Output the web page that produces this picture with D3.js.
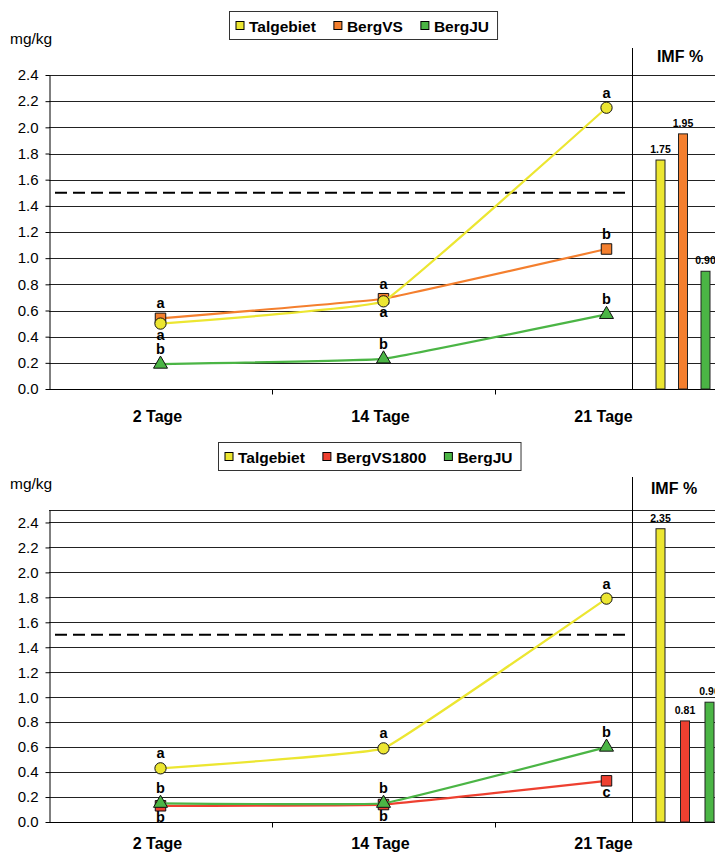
<!DOCTYPE html>
<html>
<head>
<meta charset="utf-8">
<title>Talgebiet / Berg</title>
<script src="https://d3js.org/d3.v7.min.js"></script>
<style>
body {margin:0; background:#fff;}
text {font-family: "Liberation Sans", Arial, sans-serif; fill:#000;}
</style>
</head>
<body>
<svg id="chart" width="715" height="852"></svg>
<script>
// categories and axis ticks
var days = ["2 Tage", "14 Tage", "21 Tage"];
var yTicks = [0, 0.2, 0.4, 0.6, 0.8, 1.0, 1.2, 1.4, 1.6, 1.8, 2.0, 2.2, 2.4];
var limit = 1.5;

// upper chart
var groups1 = ["Talgebiet", "BergVS", "BergJU"];
var talgebiet1 = [0.50, 0.67, 2.15];
var bergVS1 = [0.54, 0.69, 1.07];
var bergJU1 = [0.19, 0.23, 0.57];
var letters1 = [["a", "a", "a"], ["a", "a", "b"], ["b", "b", "b"]];
var imf1 = [1.75, 1.95, 0.90];

// lower chart
var groups2 = ["Talgebiet", "BergVS1800", "BergJU"];
var talgebiet2 = [0.43, 0.59, 1.79];
var bergVS1800 = [0.13, 0.14, 0.33];
var bergJU2 = [0.15, 0.15, 0.60];
var letters2 = [["a", "a", "a"], ["b", "b", "c"], ["b", "b", "b"]];
var imf2 = [2.35, 0.81, 0.96];

var color = d3.scaleOrdinal()
    .domain(["Talgebiet", "BergVS", "BergJU", "BergVS1800"])
    .range(["#ECE631", "#F47F2E", "#4BB545", "#EE4030"]);
var shape = {Talgebiet: d3.symbolCircle, BergVS: d3.symbolSquare, BergVS1800: d3.symbolSquare, BergJU: d3.symbolTriangle};
var shapeSize = {Talgebiet: 100, BergVS: 110, BergVS1800: 110, BergJU: 85};

var svg = d3.select("#chart");
svg.append("rect").attr("width", 715).attr("height", 852).attr("fill", "#fff");

function drawPanel(p) {
    var g = svg.append("g");
    var y = d3.scaleLinear().domain([0, p.yMax]).range([p.y0, p.y1]);
    var x = d3.scaleBand().domain(days).range([49, 718]);
    var xb = d3.scalePoint().domain(p.groups).range(p.barRange);
    var cx = function(i) { return x(days[i]) + x.bandwidth() / 2; };

    // gridlines across the whole width
    g.selectAll(".grid").data(yTicks.filter(function(d) { return d > 0; }).concat([p.yMax]))
        .join("line")
        .attr("x1", 49).attr("x2", 715)
        .attr("y1", function(d) { return Math.round(y(d)) + 0.5; })
        .attr("y2", function(d) { return Math.round(y(d)) + 0.5; })
        .attr("stroke", "#222").attr("stroke-width", 1);

    // y axis
    var ya = g.append("g").attr("transform", "translate(49.5,0)")
        .call(d3.axisLeft(y).tickValues(yTicks).tickFormat(d3.format(".1f")).tickSize(4).tickSizeOuter(0).tickPadding(7));
    ya.selectAll("text").style("font-family", '"Liberation Sans", Arial, sans-serif').style("font-size", "15px");
    ya.selectAll("line, path").attr("stroke", "#000");

    // x axis
    var y0 = Math.round(y(0)) + 0.5;
    g.append("line").attr("x1", 49).attr("x2", 715).attr("y1", y0).attr("y2", y0).attr("stroke", "#000");
    g.selectAll(".xtick").data(days.slice(1)).join("line")
        .attr("x1", function(d) { return Math.round(x(d)) + 0.5; })
        .attr("x2", function(d) { return Math.round(x(d)) + 0.5; })
        .attr("y1", y0).attr("y2", y0 + 5).attr("stroke", "#000");
    g.selectAll(".xlab").data(days).join("text")
        .attr("x", function(d, i) { return cx(i) - 3; })
        .attr("y", p.xLabelY)
        .attr("text-anchor", "middle").style("font-size", "16px").style("font-weight", "bold")
        .text(function(d) { return d; });

    // limit line
    g.append("line").attr("x1", 55).attr("x2", 630)
        .attr("y1", y(limit)).attr("y2", y(limit))
        .attr("stroke", "#000").attr("stroke-width", 2).attr("stroke-dasharray", "12,6");

    // separator for IMF panel
    g.append("line").attr("x1", 632.5).attr("x2", 632.5).attr("y1", p.sepTop).attr("y2", y0)
        .attr("stroke", "#000");
    g.append("text").attr("x", p.imfX).attr("y", p.imfY).attr("text-anchor", "middle")
        .style("font-size", "16px").style("font-weight", "bold").text("IMF %");

    // IMF bars
    g.selectAll(".bar").data(p.imf).join("rect")
        .attr("x", function(d, i) { return xb(p.groups[i]) - 4.5; })
        .attr("width", 9)
        .attr("y", function(d) { return y(d); })
        .attr("height", function(d) { return y(0) - y(d); })
        .attr("fill", function(d, i) { return color(p.groups[i]); })
        .attr("stroke", "#222").attr("stroke-width", 1);
    g.selectAll(".barlab").data(p.imf).join("text")
        .attr("x", function(d, i) { return xb(p.groups[i]); })
        .attr("y", function(d) { return y(d) - 7; })
        .attr("text-anchor", "middle").style("font-size", "10.5px").style("font-weight", "bold")
        .text(function(d) { return d3.format(".2f")(d); });

    // y unit
    g.append("text").attr("x", 10).attr("y", p.unitY).style("font-size", "15.5px").text("mg/kg");

    // lines and markers
    var line = d3.line().x(function(d, i) { return cx(i); }).y(function(d) { return y(d); })
        .curve(d3.curveCardinal.tension(0.8));
    [1, 2, 0].forEach(function(k) {
        var name = p.groups[k], vals = p.series[k];
        g.append("path").datum(vals).attr("d", line)
            .attr("fill", "none").attr("stroke", color(name)).attr("stroke-width", 2.2);
        g.selectAll(".m" + k).data(vals).join("path")
            .attr("d", d3.symbol().type(shape[name]).size(shapeSize[name]))
            .attr("transform", function(d, i) { return "translate(" + cx(i) + "," + y(d) + ")"; })
            .attr("fill", color(name)).attr("stroke", "#111").attr("stroke-width", 1);
    });
    p.series.forEach(function(vals, k) {
        g.selectAll(".l" + k).data(vals).join("text")
            .attr("x", function(d, i) { return cx(i); })
            .attr("y", function(d, i) { return p.letterPos[k][i] == "above" ? y(d) - 10 : y(d) + 16; })
            .attr("text-anchor", "middle").style("font-size", "14.5px").style("font-weight", "bold")
            .text(function(d, i) { return p.letters[k][i]; });
    });

    // legend
    var lg = g.append("g");
    var box = lg.append("rect").attr("y", p.legendY).attr("height", 28)
        .attr("fill", "#fff").attr("stroke", "#333").attr("stroke-width", 1);
    var pos = 7;
    p.groups.forEach(function(name, i) {
        lg.append("rect").attr("x", pos).attr("y", p.legendY + 10).attr("width", 8).attr("height", 8)
            .attr("fill", color(name)).attr("stroke", "#000").attr("stroke-width", 1);
        var t = lg.append("text").attr("x", pos + 13).attr("y", p.legendY + 20)
            .style("font-size", "15.5px").style("font-weight", "bold").text(name);
        pos += 13 + t.node().getComputedTextLength() + (i < p.groups.length - 1 ? 18 : 8);
    });
    box.attr("x", 0.5).attr("width", pos);
    lg.attr("transform", "translate(" + Math.round(p.legendCx - pos / 2) + ",0)");
}

drawPanel({
    groups: groups1, series: [talgebiet1, bergVS1, bergJU1], letters: letters1,
    letterPos: [["below", "below", "above"], ["above", "above", "above"], ["above", "above", "above"]],
    imf: imf1, yMax: 2.4, y0: 389, y1: 75, barRange: [660.5, 705.5],
    xLabelY: 422, sepTop: 48, imfX: 680, imfY: 62, unitY: 44, legendY: 11.5, legendCx: 363.5
});
drawPanel({
    groups: groups2, series: [talgebiet2, bergVS1800, bergJU2], letters: letters2,
    letterPos: [["above", "above", "above"], ["below", "below", "below"], ["above", "above", "above"]],
    imf: imf2, yMax: 2.5, y0: 822, y1: 510, barRange: [660.5, 709.5],
    xLabelY: 849, sepTop: 477, imfX: 674, imfY: 494, unitY: 489, legendY: 442.5, legendCx: 369
});
</script>
</body>
</html>
